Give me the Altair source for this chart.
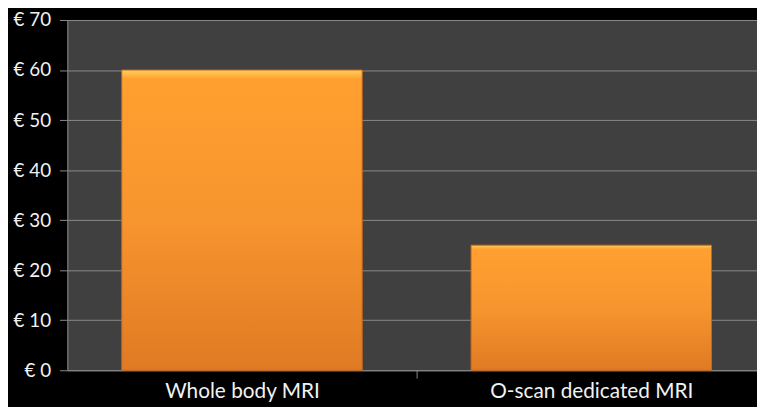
import altair as alt
import pandas as pd

categories = ["Whole body MRI", "O-scan dedicated MRI"]
costs = [60, 25]

df = pd.DataFrame({"category": categories, "cost": costs})

grad = alt.Gradient(
    gradient="linear",
    stops=[
        alt.GradientStop(color="#FFD060", offset=0),
        alt.GradientStop(color="#FFA030", offset=0.03),
        alt.GradientStop(color="#F7952E", offset=0.5),
        alt.GradientStop(color="#E07A24", offset=1),
    ],
    x1=0, x2=0, y1=0, y2=1,
)

chart = alt.Chart(df).mark_bar(
    color=grad, stroke="#C8661A", strokeWidth=1, xOffset=4.5
).encode(
    x=alt.X("category:N", sort=categories, title=None,
            scale=alt.Scale(paddingInner=0.3116, paddingOuter=0.143),
            axis=alt.Axis(labelAngle=0, labelColor="#F2F2F2", labelFontSize=21,
                          labelFont="Lato", tickOffset=181, labelOffset=-176.5,
                          tickColor="#8a8a8a", tickSize=8, labelLimit=0,
                          domainColor="#8a8a8a", labelPadding=3,
                          grid=False)),
    y=alt.Y("cost:Q", title=None,
            scale=alt.Scale(domain=[0, 70]),
            axis=alt.Axis(values=[0, 10, 20, 30, 40, 50, 60, 70],
                          labelExpr="'€ ' + datum.value",
                          labelColor="#F2F2F2", labelFontSize=19, labelFont="Lato",
                          tickColor="#8a8a8a", tickSize=8, labelPadding=9,
                          domainColor="#8a8a8a", gridColor="#8a8a8a",
                          gridWidth=1)),
).properties(
    width=697, height=354,
    background="black",
    padding={"left": 60, "top": 10, "right": 0, "bottom": 35},
    autosize=alt.AutoSizeParams(type="none"),
).configure_view(
    fill="#404040", stroke=None
)

chart.save("out.html", embed_options={"renderer": "svg", "actions": False})
